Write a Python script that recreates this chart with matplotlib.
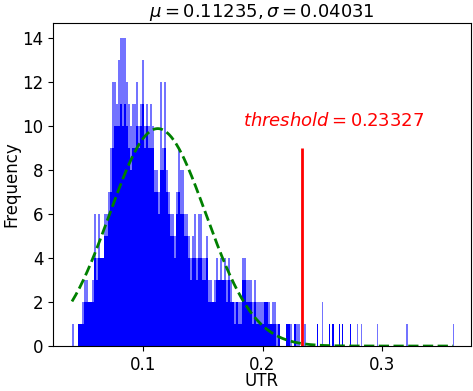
import numpy as np
import matplotlib
matplotlib.use("Agg")
import matplotlib.pyplot as plt

plt.rcParams['font.size'] = 12

mu = 0.11235
sigma = 0.04031
threshold = 0.23327

# histogram: narrow bins starting at x_start
x_start = 0.04059
bin_width = 0.0016736
# tallest bar in each bin and the height up to which the bin is fully filled
peak = [1, 0, 0, 1, 1, 2, 3, 3, 2, 2, 3, 6, 4, 6, 4, 4, 6, 6, 7, 9,
        12, 12, 11, 13, 14, 14, 14, 12, 11, 10, 11, 11, 12, 10, 11, 13, 10, 11, 10, 11,
        10, 8, 8, 7, 12, 9, 12, 8, 7, 6, 6, 5, 7, 9, 8, 8, 6, 6, 5, 4,
        5, 6, 4, 6, 6, 4, 4, 5, 3, 3, 2, 3, 4, 3, 4, 3, 4, 3, 4, 3,
        2, 2, 2, 2, 2, 4, 4, 3, 3, 3, 2, 3, 2, 2, 2, 2, 2, 2, 2, 1,
        2, 2, 1, 1, 0, 0, 0, 1, 1, 1, 0, 1, 1, 1, 0, 0, 1]
solid = [0, 0, 0, 1, 1, 1, 2, 2, 2, 2, 2, 4, 3, 4, 4, 4, 5, 5, 6, 7,
         9, 10, 10, 10, 11, 10, 11, 10, 9, 8, 9, 9, 10, 9, 10, 11, 9, 10, 9, 9,
         9, 7, 7, 6, 8, 8, 9, 7, 6, 5, 5, 4, 6, 7, 6, 6, 5, 5, 4, 3,
         4, 4, 3, 4, 4, 3, 3, 4, 2, 2, 2, 2, 3, 3, 3, 3, 3, 2, 3, 2,
         2, 1, 2, 1, 1, 3, 3, 2, 2, 2, 1, 2, 1, 1, 1, 1, 2, 2, 1, 1,
         1, 1, 0, 1, 0, 0, 0, 1, 1, 0, 0, 1, 0, 0, 0, 0, 0]

# isolated bars in the tail
tail_x = [0.2456, 0.2498, 0.2556, 0.2582, 0.2640, 0.2665, 0.2732,
          0.2791, 0.2824, 0.2958, 0.3201, 0.3594]
tail_peak = [1, 2, 1, 1, 1, 1, 1, 1, 1, 1, 1, 1]
tail_solid = [1, 0, 1, 1, 1, 1, 1, 0, 0, 0, 0, 0]

data_min = 0.0406
data_max = 0.3594

fig = plt.figure(figsize=(4.73, 3.91), dpi=100)
ax = fig.add_axes([0.112, 0.115, 0.884, 0.826])

peak = np.array(peak)
solid = np.array(solid)
left = x_start + bin_width * np.arange(len(peak))
ax.bar(left, solid, width=bin_width, align='edge', color='blue', linewidth=0)
# the taller single bins show up as thin light lines
ax.bar(left + bin_width / 2, peak - solid, bottom=solid, width=bin_width * 0.7,
       align='center', color='blue', alpha=0.55, linewidth=0)

tail_peak = np.array(tail_peak)
tail_solid = np.array(tail_solid)
tw = bin_width * 0.7
ax.bar(tail_x, tail_solid, width=tw, align='edge', color='blue', linewidth=0)
ax.bar(tail_x, tail_peak - tail_solid, bottom=tail_solid, width=tw, align='edge',
       color='blue', alpha=0.55, linewidth=0)

# fitted normal curve
xs = np.linspace(data_min, data_max, 300)
pdf = np.exp(-(xs - mu) ** 2 / (2 * sigma ** 2)) / (sigma * np.sqrt(2 * np.pi))
ax.plot(xs, pdf, 'g--', linewidth=2)

ax.vlines(threshold, 0, 9, color='red', linewidth=2)
ax.text(threshold - 0.05, 10, r'$threshold = %.5f$' % threshold, color='red', fontsize=13)

ax.set_title(r'$\mu = %.5f, \sigma = %.5f$' % (mu, sigma), fontsize=13, pad=4)
ax.set_xlabel('UTR', labelpad=-1)
ax.set_ylabel('Frequency', labelpad=1)
ax.set_xlim(0.02469, 0.37448)
ax.set_ylim(0, 14.7)
ax.set_xticks([0.1, 0.2, 0.3])
ax.set_yticks(range(0, 15, 2))

fig.savefig('out.png', dpi=100)
